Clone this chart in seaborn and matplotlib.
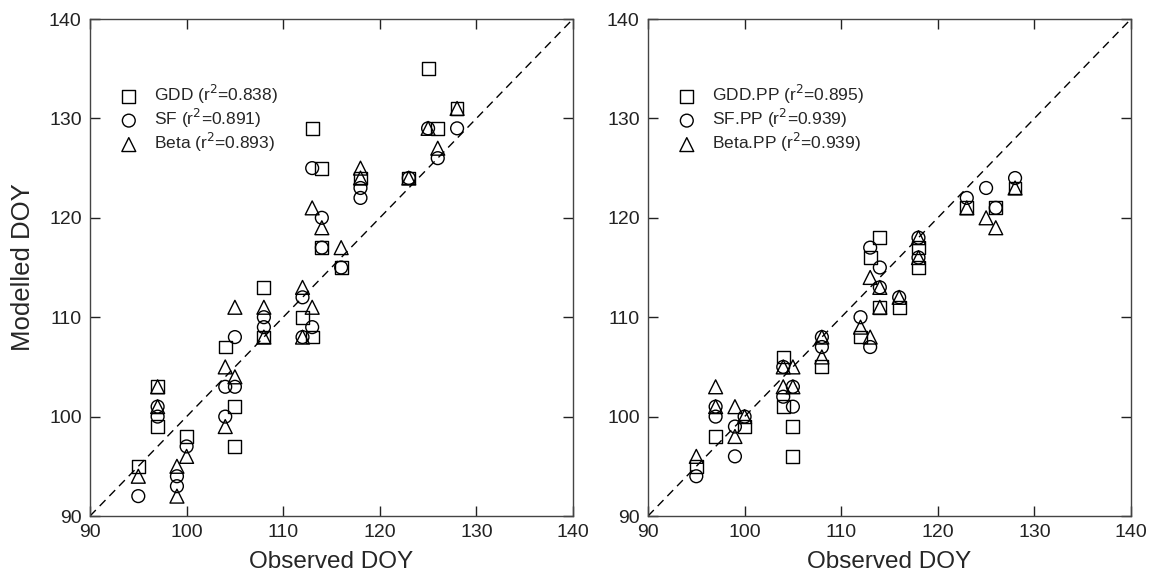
import numpy as np
import pandas as pd
import matplotlib
matplotlib.use("Agg")
import matplotlib.pyplot as plt
import seaborn as sns

sns.set_style("ticks")
plt.rcParams['font.family'] = ['Liberation Sans', 'DejaVu Sans']

# ---------------- Data: left panel (no photoperiod) ----------------
gdd_obs = [95, 97, 97, 100, 104, 105, 105, 108, 108, 112, 113, 113, 114, 114, 116, 118, 123, 125, 126, 128]
gdd_mod = [95, 103, 99, 98, 107, 101, 97, 113, 108, 110, 129, 108, 125, 117, 115, 124, 124, 135, 129, 131]

sf_obs = [95, 97, 97, 99, 99, 100, 104, 104, 105, 105, 108, 108, 112, 112, 113, 113, 114, 114, 116, 118, 118, 123, 125, 126, 128]
sf_mod = [92, 101, 100, 94, 93, 97, 103, 100, 108, 103, 110, 109, 112, 108, 125, 109, 120, 117, 115, 123, 122, 124, 129, 126, 129]

beta_obs = [95, 97, 97, 99, 99, 100, 104, 104, 105, 105, 108, 108, 112, 112, 113, 113, 114, 116, 118, 118, 123, 125, 126, 128]
beta_mod = [94, 103, 101, 95, 92, 96, 105, 99, 111, 104, 111, 108, 113, 108, 121, 111, 119, 117, 125, 124, 124, 129, 127, 131]

# ---------------- Data: right panel (with photoperiod) ----------------
gddpp_obs = [95, 97, 100, 104, 104, 105, 105, 108, 112, 113, 114, 114, 116, 118, 118, 123, 126, 128]
gddpp_mod = [95, 98, 99, 106, 101, 99, 96, 105, 108, 116, 118, 111, 111, 117, 115, 121, 121, 123]

sfpp_obs = [95, 97, 97, 99, 99, 100, 104, 104, 105, 105, 108, 108, 112, 113, 113, 114, 114, 116, 118, 118, 123, 125, 126, 128]
sfpp_mod = [94, 101, 100, 99, 96, 100, 105, 102, 103, 101, 108, 107, 110, 117, 107, 115, 113, 112, 118, 116, 122, 123, 121, 124]

betapp_obs = [95, 97, 97, 99, 99, 100, 104, 104, 105, 105, 108, 108, 112, 113, 113, 114, 114, 116, 118, 118, 123, 125, 126, 128]
betapp_mod = [96, 103, 101, 101, 98, 100, 105, 103, 105, 103, 108, 106, 109, 114, 108, 113, 111, 112, 118, 116, 121, 120, 119, 123]

left_labels = ["GDD (r$^2$=0.838)", "SF (r$^2$=0.891)", "Beta (r$^2$=0.893)"]
right_labels = ["GDD.PP (r$^2$=0.895)", "SF.PP (r$^2$=0.939)", "Beta.PP (r$^2$=0.939)"]
axis_ticks = [90, 100, 110, 120, 130, 140]
markers = ["s", "o", "^"]

W, H = 1153, 574
fig = plt.figure(figsize=(W / 100, H / 100), dpi=100)
ax_l = fig.add_axes([90 / W, 1 - 516 / H, 483 / W, 497 / H])
ax_r = fig.add_axes([648 / W, 1 - 516 / H, 483 / W, 497 / H])

panels = [
    (ax_l, [(gdd_obs, gdd_mod), (sf_obs, sf_mod), (beta_obs, beta_mod)], left_labels),
    (ax_r, [(gddpp_obs, gddpp_mod), (sfpp_obs, sfpp_mod), (betapp_obs, betapp_mod)], right_labels),
]

for ax, series, labels in panels:
    # 1:1 line
    ax.plot([axis_ticks[0], axis_ticks[-1]], [axis_ticks[0], axis_ticks[-1]],
            color="black", lw=1.0, ls=(0, (6, 4)), zorder=1)
    for (obs, mod), mk, lab in zip(series, markers, labels):
        df = pd.DataFrame({"obs": obs, "mod": mod})
        sz = 85 if mk != "^" else 100
        sns.scatterplot(data=df, x="obs", y="mod", marker=mk, s=sz,
                        facecolor="none", edgecolor="black", linewidth=1.0,
                        label=lab, ax=ax, zorder=3)
    ax.set_xlim(axis_ticks[0], axis_ticks[-1])
    ax.set_ylim(axis_ticks[0], axis_ticks[-1])
    ax.set_xticks(axis_ticks)
    ax.set_yticks(axis_ticks)
    ax.tick_params(direction="in", length=7, width=1, top=True, right=True,
                   labelsize=14, colors="#222222", pad=6)
    for sp in ax.spines.values():
        sp.set_visible(True)
        sp.set_linewidth(1.0)
        sp.set_color("#444444")
    ax.set_xlabel("Observed DOY", fontsize=17.5, labelpad=7)
    ax.set_ylabel("")
    leg = ax.legend(loc="upper left", bbox_to_anchor=(0.03, 0.885), frameon=False,
                    fontsize=12.5, handletextpad=0.45, labelspacing=0.05,
                    borderaxespad=0)

ax_l.set_ylabel("Modelled DOY", fontsize=18.5, labelpad=10)

fig.savefig("out.png", dpi=100)
